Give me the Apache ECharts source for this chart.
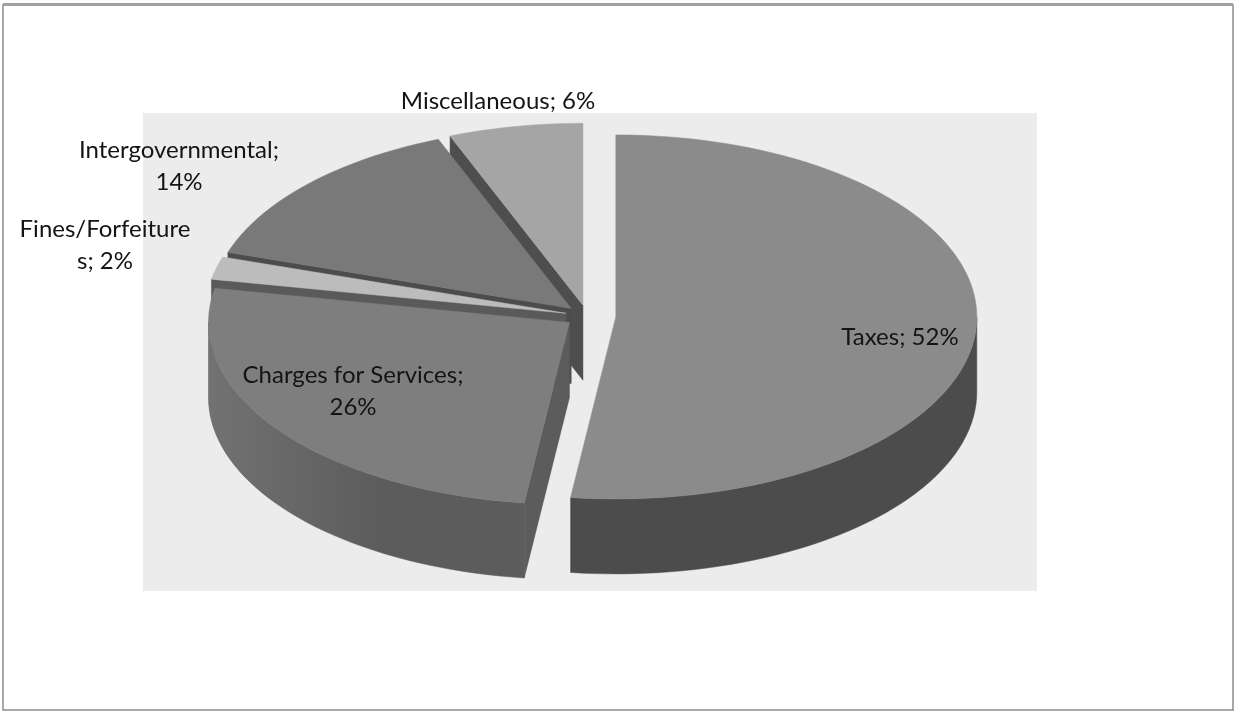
<!DOCTYPE html>
<html>
<head>
<meta charset="utf-8">
<title>Revenue Sources</title>
<script src="https://cdn.jsdelivr.net/npm/echarts/dist/echarts.min.js"></script>
<style>
  html, body { margin: 0; padding: 0; background: #ffffff; }
  #chart { width: 1237px; height: 713px; }
</style>
</head>
<body>
<div id="chart"></div>
<script>
// Revenue sources, clockwise from 12 o'clock
const categories = ['Taxes', 'Charges for Services', 'Fines/Forfeitures', 'Intergovernmental', 'Miscellaneous'];
const shares = [52, 26, 2, 14, 6];

// Drawing style per slice (same order as categories)
const topColors   = ['#8b8b8b', '#7e7e7e', '#bcbcbc', '#797979', '#a5a5a5'];
const sideColors  = ['#4c4c4c', '#5c5c5c', '#5a5a5a', '#4c4c4c', '#4e4e4e'];
const sideLight   = ['#4c4c4c', '#727272', '#5a5a5a', '#4c4c4c', '#4e4e4e'];
const explode     = [0.08, 0.06, 0.06, 0.06, 0.06];
// where each label sits and where its text wraps
const labelAnchors = [[900, 337], [353, 391], [105, 245], [179, 166], [498, 101]];
const labelWrapAt  = [0, 21, 16, 18, 0];

// 3D pie geometry (screen px)
const CX = 587, CY = 316, RX = 361, RY = 182, DEPTH = 75;

const total = shares.reduce((s, v) => s + v, 0);
const starts = [];
shares.reduce((acc, v) => { starts.push(acc); return acc + v; }, 0);

// back-to-front paint order by slice mid-angle depth
const mids = shares.map((v, i) => (starts[i] + v / 2) / total * 2 * Math.PI);
const order = mids.map((m, i) => i).sort((p, q) => (-Math.cos(mids[p])) - (-Math.cos(mids[q])));
const rank = [];
order.forEach((idx, r) => { rank[idx] = r; });

function pt(ox, oy, t, dz) {
  return [ox + RX * Math.sin(t), oy - RY * Math.cos(t) + (dz || 0)];
}
function arc(ox, oy, t0, t1, dz) {
  const n = Math.max(2, Math.ceil(Math.abs(t1 - t0) / (Math.PI / 90)));
  const out = [];
  for (let k = 0; k <= n; k++) out.push(pt(ox, oy, t0 + (t1 - t0) * k / n, dz));
  return out;
}

function renderItem(params, api) {
  const i = params.dataIndex;
  const v = api.value(0);
  const t0 = starts[i] / total * 2 * Math.PI;
  const t1 = (starts[i] + v) / total * 2 * Math.PI;
  const m = (t0 + t1) / 2;
  const e = explode[i];
  const ox = CX + e * RX * Math.sin(m);
  const oy = CY - e * RY * Math.cos(m);
  const base = rank[i] * 10;
  const children = [];

  // curved outer wall, front half only, lighter toward the left rim
  const u0 = Math.max(t0, Math.PI / 2), u1 = Math.min(t1, Math.PI * 1.5);
  if (u1 > u0) {
    const top = arc(ox, oy, u0, u1, 0);
    const bot = arc(ox, oy, u1, u0, DEPTH);
    const wallFill = new echarts.graphic.LinearGradient(1, 0, 0, 0, [
      { offset: 0, color: sideColors[i] },
      { offset: 0.45, color: sideColors[i] },
      { offset: 1, color: sideLight[i] }
    ]);
    children.push({
      type: 'polygon', z2: base + 1,
      shape: { points: top.concat(bot) },
      style: { fill: wallFill, stroke: sideColors[i], lineWidth: 0.5 }
    });
  }
  // radial cut faces that turn toward the viewer
  const faces = [];
  if (Math.sin(t0) < -1e-6) faces.push(t0);
  if (Math.sin(t1) > 1e-6) faces.push(t1);
  faces.forEach(t => {
    const r = pt(ox, oy, t, 0);
    children.push({
      type: 'polygon', z2: base + 1,
      shape: { points: [[ox, oy], r, [r[0], r[1] + DEPTH], [ox, oy + DEPTH]] },
      style: { fill: sideColors[i], stroke: sideColors[i], lineWidth: 0.5 }
    });
  });
  // top face
  children.push({
    type: 'polygon', z2: base + 2,
    shape: { points: [[ox, oy]].concat(arc(ox, oy, t0, t1, 0)) },
    style: { fill: topColors[i], stroke: topColors[i], lineWidth: 0.5 }
  });

  // data label "Name; NN%"
  let text = categories[i] + '; ' + Math.round(v / total * 100) + '%';
  const k = labelWrapAt[i];
  if (k > 0) text = text.slice(0, k).trimEnd() + '\n' + text.slice(k).trimStart();
  children.push({
    type: 'text', z2: 100,
    x: labelAnchors[i][0], y: labelAnchors[i][1],
    style: {
      text: text, fill: '#141414', fontSize: 24, fontFamily: 'Lato',
      align: 'center', verticalAlign: 'middle', lineHeight: 32
    }
  });

  return { type: 'group', children: children };
}

const chart = echarts.init(document.getElementById('chart'), null, { renderer: 'canvas' });
chart.setOption({
  backgroundColor: '#ffffff',
  animation: false,
  graphic: [
    { type: 'rect', z: -10, shape: { x: 3, y: 5, width: 1230, height: 705 },
      style: { fill: '#ffffff', stroke: '#8c8c8c', lineWidth: 1.5 } },
    { type: 'rect', z: -9, shape: { x: 3, y: 3, width: 1230, height: 3 },
      style: { fill: '#a0a0a0' } },
    { type: 'rect', z: -8, shape: { x: 143, y: 113, width: 894, height: 478 },
      style: { fill: '#ececec' } }
  ],
  series: [{
    type: 'custom',
    coordinateSystem: 'none',
    renderItem: renderItem,
    data: shares.map(v => [v])
  }]
});
</script>
</body>
</html>
